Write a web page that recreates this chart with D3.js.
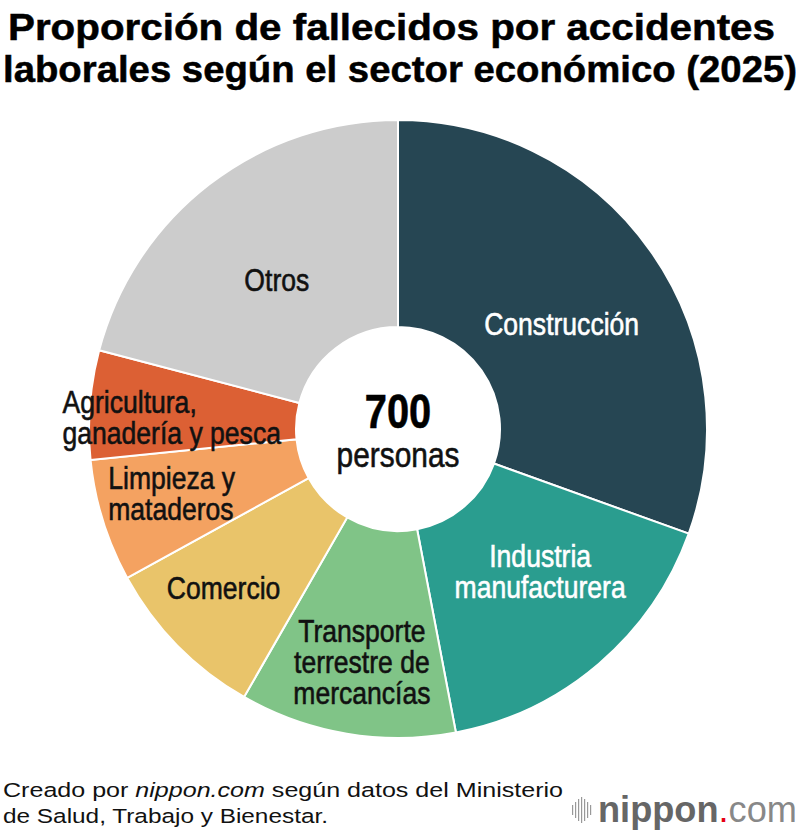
<!DOCTYPE html>
<html>
<head>
<meta charset="utf-8">
<script src="https://cdn.jsdelivr.net/npm/d3@7"></script>
<style>
    body { margin: 0; background: #fff; }
    svg { display: block; }
    .lbl { font-family: "Liberation Sans", Arial, sans-serif; font-size: 32px; stroke-width: 0.6; }
</style>
</head>
<body>
<svg class="canvas" width="800" height="840"></svg>
<script>
// sectores en orden horario desde las 12
const sectors = [
    ['Construcción'],
    ['Industria', 'manufacturera'],
    ['Transporte', 'terrestre de', 'mercancías'],
    ['Comercio'],
    ['Limpieza y', 'mataderos'],
    ['Agricultura,', 'ganadería y pesca'],
    ['Otros']
];
const shares = [30.5, 16.5, 11.3, 8.7, 6.4, 5.7, 20.9];
const fills = ['#264653', '#2a9d8f', '#80c487', '#e9c46a', '#f4a261', '#dc6034', '#cccccc'];
const total = '700';
const totalUnit = 'personas';
const title = ['Proporción de fallecidos por accidentes', 'laborales según el sector económico (2025)'];

// colocación de etiquetas (ajuste visual)
const labelR = [200, 205, 236, 236, 236, 226, 192];
const nudge = [[0, 10], [9, -13], [3, 0], [-6, -6], [-1, -6], [-1, 6], [-4, 3]];
const leftBlock = [false, false, false, false, true, true, false];
const textColor = ['#fff', '#fff', '#111', '#111', '#111', '#111', '#111'];

const cx = 398, cy = 429, rOut = 309, rIn = 102;
const sx = 0.83; // letra estrecha
const canvas = d3.select('.canvas');

canvas.selectAll('text.title')
    .data(title)
    .enter()
    .append('text')
    .attr('class', 'title')
    .attr('x', (d, i) => i ? 3 : 8)
    .attr('y', (d, i) => 40 + i * 42)
    .attr('font-family', '"Liberation Sans", Arial, sans-serif')
    .attr('font-weight', 'bold')
    .attr('font-size', 36)
    .attr('stroke', '#000')
    .attr('stroke-width', 0.5)
    .attr('textLength', (d, i) => i ? 794 : 767)
    .attr('lengthAdjust', 'spacingAndGlyphs')
    .text(d => d);

const pie = d3.pie().sort(null).value(d => d);
const arcs = pie(shares);
const arc = d3.arc().innerRadius(rIn).outerRadius(rOut);

const g = canvas.append('g').attr('transform', `translate(${cx}, ${cy})`);

g.selectAll('path')
    .data(arcs)
    .enter()
    .append('path')
    .attr('d', arc)
    .attr('fill', (d, i) => fills[i])
    .attr('stroke', '#fff')
    .attr('stroke-width', 2);

g.append('circle').attr('r', rIn).attr('fill', '#fff');

// etiquetas
const lineH = 31;
arcs.forEach((a, i) => {
    const c = d3.arc().innerRadius(labelR[i]).outerRadius(labelR[i]).centroid(a);
    const x = c[0] + nudge[i][0], y = c[1] + nudge[i][1];
    const lines = sectors[i];
    const t = g.append('text')
        .attr('class', 'lbl')
        .attr('fill', textColor[i])
        .attr('stroke', textColor[i])
        .attr('text-anchor', leftBlock[i] ? 'start' : 'middle')
        .attr('transform', `translate(${x}, ${y}) scale(${sx}, 1)`);
    const spans = lines.map((s, j) => t.append('tspan')
        .attr('x', 0)
        .attr('y', (j - (lines.length - 1) / 2) * lineH + 11)
        .text(s));
    if (leftBlock[i]) {
        const w = d3.max(spans, s => s.node().getComputedTextLength());
        spans.forEach(s => s.attr('x', -w / 2));
    }
});

g.append('text')
    .attr('text-anchor', 'middle')
    .attr('transform', `translate(0, -1) scale(${sx}, 1)`)
    .attr('font-family', '"Liberation Sans", Arial, sans-serif')
    .attr('font-weight', 'bold')
    .attr('font-size', 48)
    .attr('stroke', '#000')
    .attr('stroke-width', 0.6)
    .text(total);
g.append('text')
    .attr('class', 'lbl')
    .attr('text-anchor', 'middle')
    .attr('fill', '#111')
    .attr('stroke', '#111')
    .attr('transform', `translate(0, 38) scale(${sx}, 1)`)
    .style('font-size', '36px')
    .text(totalUnit);

// pie de página
const foot = canvas.append('g')
    .attr('font-family', '"Liberation Sans", Arial, sans-serif')
    .attr('font-size', 20.5)
    .attr('fill', '#111');
const l1 = foot.append('text').attr('x', 3).attr('y', 797)
    .attr('textLength', 560).attr('lengthAdjust', 'spacingAndGlyphs');
l1.append('tspan').text('Creado por ');
l1.append('tspan').attr('font-style', 'italic').text('nippon.com');
l1.append('tspan').text(' según datos del Ministerio');
foot.append('text').attr('x', 3).attr('y', 823)
    .attr('textLength', 325).attr('lengthAdjust', 'spacingAndGlyphs')
    .text('de Salud, Trabajo y Bienestar.');

// logo
const logo = canvas.append('g').attr('transform', 'translate(572, 822)');
const barsH = [10, 16, 22, 26, 22, 16, 10];
logo.selectAll('rect')
    .data(barsH)
    .enter()
    .append('rect')
    .attr('x', (d, i) => i * 3)
    .attr('y', d => -12 - d / 2)
    .attr('width', 1.2)
    .attr('height', d => d)
    .attr('fill', '#999');
const lt = logo.append('text')
    .attr('x', 26)
    .attr('y', 0)
    .attr('font-family', '"Liberation Sans", Arial, sans-serif')
    .attr('font-size', 36)
    .attr('textLength', 199)
    .attr('lengthAdjust', 'spacingAndGlyphs');
lt.append('tspan').attr('fill', '#666').attr('font-weight', 'bold').text('nippon');
lt.append('tspan').attr('fill', '#e60012').text('.');
lt.append('tspan').attr('fill', '#888').text('com');
</script>
</body>
</html>
